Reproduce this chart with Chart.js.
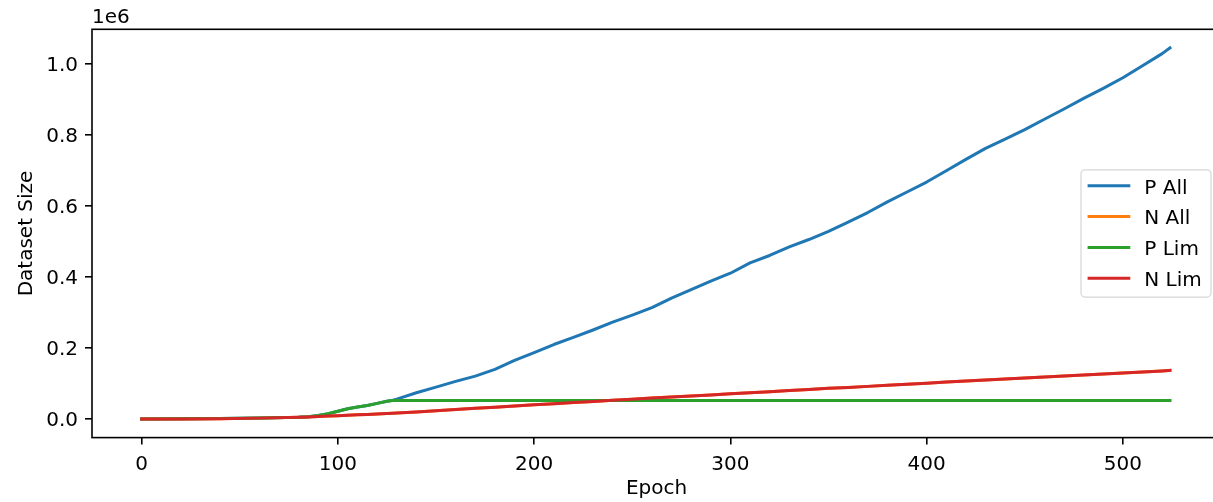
<!DOCTYPE html>
<html>
<head>
<meta charset="utf-8">
<script src="https://cdn.jsdelivr.net/npm/chart.js@4"></script>
<style>
  html, body { margin: 0; padding: 0; overflow: hidden; background: #fff; }
  #frame { position: relative; width: 1213px; height: 502px; overflow: hidden; }
  #c { position: absolute; left: 0; top: 0; display: block; }
</style>
</head>
<body>
<div id="frame"><canvas id="c" width="1222" height="502"></canvas></div>
<script>
// Training epochs at which dataset sizes were recorded
const epochs = [0, 20, 40, 60, 80, 85, 90, 95, 100, 105, 110, 115, 120, 125, 128,
  130, 140, 150, 160, 170, 180, 190, 200, 210, 220,
  230, 240, 250, 260, 270, 280, 290, 300, 310, 320,
  330, 340, 350, 360, 370, 380, 390, 400, 410, 420,
  430, 440, 450, 460, 470, 480, 490, 500, 510, 520,
  524];

const pAll = [0, 500, 1500, 3000, 5000, 6500, 10000, 15000, 22000, 29000, 34000, 38000, 44000, 50000, 53000,
  56000, 74000, 90000, 106000, 121000, 140000, 165000, 187000, 210000, 230000,
  251000, 273000, 293000, 314000, 341000, 365000, 389000, 411000, 440000, 461000,
  485000, 506000, 529000, 555000, 582000, 612000, 640000, 668000, 700000, 732000,
  763000, 789000, 816000, 845000, 874000, 904000, 932000, 962000, 996000, 1030000,
  1046000];

const nAll = [0, 300, 1000, 2500, 5000, 6000, 7000, 8200, 9500, 10800, 12000, 13000, 14000, 15500, 16400,
  17000, 20000, 23500, 27000, 30000, 33500, 37000, 40000, 43000, 46500,
  49500, 53000, 56000, 59000, 62000, 65000, 68000, 71000, 74000, 77000,
  80500, 83500, 86500, 89000, 92000, 95000, 98000, 101000, 104000, 107000,
  110000, 112500, 115500, 118500, 121000, 124000, 127000, 130000, 132500, 135500,
  137000];

const pLim = [0, 500, 1500, 3000, 5000, 6500, 10000, 15000, 22000, 29000, 34000, 38000, 44000, 50000, 52000,
  52000, 52000, 52000, 52000, 52000, 52000, 52000, 52000, 52000, 52000,
  52000, 52000, 52000, 52000, 52000, 52000, 52000, 52000, 52000, 52000,
  52000, 52000, 52000, 52000, 52000, 52000, 52000, 52000, 52000, 52000,
  52000, 52000, 52000, 52000, 52000, 52000, 52000, 52000, 52000, 52000,
  52000];

const nLim = [0, 300, 1000, 2500, 5000, 6000, 7000, 8200, 9500, 10800, 12000, 13000, 14000, 15500, 16400,
  17000, 20000, 23500, 27000, 30000, 33500, 37000, 40000, 43000, 46500,
  49500, 53000, 56000, 59000, 62000, 65000, 68000, 71000, 74000, 77000,
  80500, 83500, 86500, 89000, 92000, 95000, 98000, 101000, 104000, 107000,
  110000, 112500, 115500, 118500, 121000, 124000, 127000, 130000, 132500, 135500,
  137000];

const seriesLabels = ['P All', 'N All', 'P Lim', 'N Lim'];
const seriesColors = ['#1f77b4', '#ff7f0e', '#2ca02c', '#d62728'];
const xTicks = [0, 100, 200, 300, 400, 500];
const yTicks = [0, 200000, 400000, 600000, 800000, 1000000];
const yScaleText = '1e6';
const xTitle = 'Epoch';
const yTitle = 'Dataset Size';

Chart.defaults.font.family = "'DejaVu Sans', sans-serif";
Chart.defaults.font.size = 20;
Chart.defaults.color = '#000';

const seriesValues = [pAll, nAll, pLim, nLim];
const datasets = seriesValues.map((vals, i) => ({
  label: seriesLabels[i],
  data: epochs.map((e, k) => ({ x: e, y: vals[k] })),
  borderColor: seriesColors[i],
  backgroundColor: seriesColors[i],
  borderWidth: 3,
  pointRadius: 0,
  tension: 0,
  fill: false,
  borderJoinStyle: 'round',
  borderCapStyle: 'square',
  order: seriesValues.length - i   // later series paint on top
}));

// Full box around the plotting area plus the exponent label
const axesFrame = {
  id: 'axesFrame',
  afterDatasetsDraw(chart) {
    const { ctx, chartArea: a } = chart;
    ctx.save();
    ctx.strokeStyle = '#000';
    ctx.lineWidth = 1.6;
    ctx.strokeRect(a.left, a.top, a.right - a.left, a.bottom - a.top);
    ctx.fillStyle = '#000';
    ctx.font = "20px 'DejaVu Sans', sans-serif";
    ctx.textAlign = 'left';
    ctx.textBaseline = 'alphabetic';
    ctx.fillText(yScaleText, a.left, a.top - 6);
    ctx.restore();
  }
};

// Framed legend, placed at the centre right inside the plot
const boxLegend = {
  id: 'boxLegend',
  afterDraw(chart) {
    const { ctx, chartArea: a } = chart;
    const sets = chart.data.datasets;
    const w = 130, h = 127.3, rowH = 30.8;
    const right = a.right - 10;
    const left = right - w;
    const top = (a.top + a.bottom) / 2 - h / 2;
    ctx.save();
    ctx.beginPath();
    ctx.roundRect(left, top, w, h, 4);
    ctx.fillStyle = 'rgba(255,255,255,0.8)';
    ctx.fill();
    ctx.strokeStyle = '#d6d6d6';
    ctx.lineWidth = 1.2;
    ctx.stroke();
    ctx.font = "20px 'DejaVu Sans', sans-serif";
    ctx.textAlign = 'left';
    ctx.textBaseline = 'alphabetic';
    sets.forEach((ds, i) => {
      const y = top + 16 + i * rowH;
      ctx.beginPath();
      ctx.moveTo(left + 6.6, y);
      ctx.lineTo(left + 49.3, y);
      ctx.strokeStyle = ds.borderColor;
      ctx.lineWidth = 3;
      ctx.stroke();
      ctx.fillStyle = '#000';
      ctx.fillText(ds.label, left + 63.3, y + 7.8);
    });
    ctx.restore();
  }
};

const tickGrid = { drawOnChartArea: false, drawTicks: true, tickLength: 7, color: '#000', lineWidth: 1.6 };

new Chart(document.getElementById('c'), {
  type: 'line',
  data: { datasets },
  options: {
    responsive: false,
    maintainAspectRatio: false,
    devicePixelRatio: 1,
    animation: false,
    events: [],
    layout: { padding: { top: 29.3, right: 1, bottom: 0, left: 0 } },
    plugins: { legend: { display: false }, tooltip: { enabled: false } },
    scales: {
      x: {
        type: 'linear',
        min: -25.3,
        max: 550,
        afterBuildTicks: s => { s.ticks = xTicks.map(v => ({ value: v })); },
        afterFit: s => { s.height = 64.4; },
        grid: tickGrid,
        border: { display: false },
        ticks: { padding: 8, maxRotation: 0, autoSkip: false, callback: v => String(v) },
        title: { display: true, text: xTitle, padding: { top: 0, bottom: 1 } }
      },
      y: {
        type: 'linear',
        min: -52400,
        max: 1098600,
        afterBuildTicks: s => { s.ticks = yTicks.map(v => ({ value: v })); },
        afterFit: s => { s.width = 92; },
        grid: tickGrid,
        border: { display: false },
        ticks: { padding: 7, labelOffset: 1.4, autoSkip: false, callback: v => (v / 1e6).toFixed(1) },
        title: { display: true, text: yTitle, padding: { top: 15, bottom: 0 } }
      }
    }
  },
  plugins: [axesFrame, boxLegend]
});
</script>
</body>
</html>
